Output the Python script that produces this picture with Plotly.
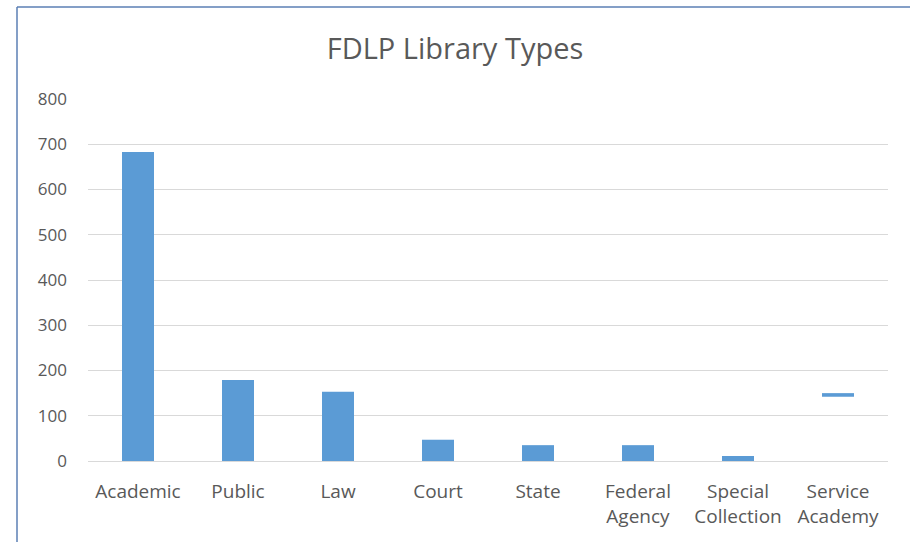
import plotly.graph_objects as go

categories = ["Academic", "Public", "Law", "Court", "State",
              "Federal<br>Agency", "Special<br>Collection", "Service<br>Academy"]
values = [683, 179, 153, 47, 35, 35, 11, 8]
bases = [0, 0, 0, 0, 0, 0, 0, 142]
y_ticks = [0, 100, 200, 300, 400, 500, 600, 700, 800]

fig = go.Figure()
fig.add_trace(go.Bar(
    x=categories, y=values, base=bases,
    marker=dict(color="#5b9bd5", line=dict(width=0)),
    width=0.32,
))

fig.update_layout(
    width=910, height=542,
    margin=dict(l=88, r=22, t=99, b=81),
    paper_bgcolor="white", plot_bgcolor="white",
    title=dict(text="FDLP Library Types", x=0.5, xanchor="center",
               y=1 - 49 / 542, yanchor="middle",
               font=dict(family="Open Sans", size=29, color="#595959")),
    font=dict(family="Open Sans", size=17, color="#595959"),
    showlegend=False,
    bargap=0.68,
    xaxis=dict(showgrid=False, showline=True, linecolor="#d9d9d9", linewidth=1,
               ticks="", tickfont=dict(size=19, color="#595959"),
               ticklabelstandoff=13),
    yaxis=dict(range=[0, 800], tickvals=y_ticks, showgrid=True,
               gridcolor="#d9d9d9", gridwidth=1, zeroline=False, showline=False,
               ticks="", ticklen=0, tickfont=dict(size=17, color="#595959"),
               ticklabelstandoff=20),
    shapes=[
        dict(type="line", xref="paper", yref="paper",
             x0=(17 - 88) / 800, x1=(910 - 88) / 800,
             y0=1 + (99 - 7) / 362, y1=1 + (99 - 7) / 362,
             line=dict(color="#5b7fb5", width=1.5)),
        dict(type="line", xref="paper", yref="paper",
             x0=(17 - 88) / 800, x1=(17 - 88) / 800,
             y0=1 + (99 - 7) / 362, y1=-81 / 362,
             line=dict(color="#5b7fb5", width=1.5)),
    ],
)

fig.write_html("out.html", config={"displayModeBar": False},
               post_script="document.body.style.margin='0px';")
